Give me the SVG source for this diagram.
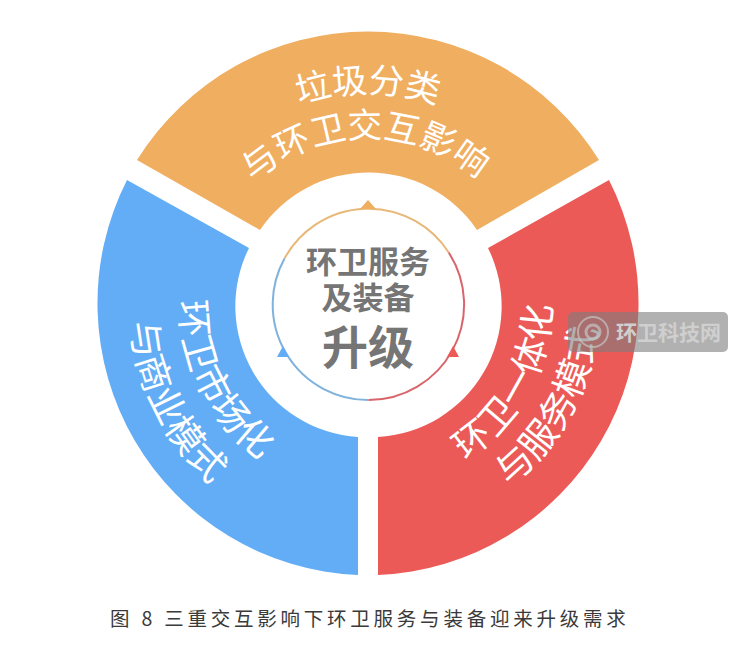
<svg xmlns="http://www.w3.org/2000/svg" width="738" height="664" viewBox="0 0 738 664">
<style>
.s{font-family:"Noto Sans CJK SC","Noto Sans",sans-serif;font-size:37px;font-weight:400;fill:#fff;text-anchor:middle}
.t{font-size:35px}
.c{font-family:"Noto Sans CJK SC","Noto Sans",sans-serif;font-weight:700;fill:#757575;text-anchor:middle}
.ring{fill:none;stroke-width:2}
</style>
<defs>
<path id="o1" d="M205.6,168.7A212,212 0 0 1 530.4,168.7"/>
<path id="o2" d="M240.1,197.6A167,167 0 0 1 495.9,197.6"/>
<path id="b1" d="M195.6,230A188,188 0 0 0 324.2,487.7"/>
<path id="b2" d="M149.8,210A238,238 0 0 0 312.5,536.3"/>
<path id="r1" d="M403,484.7A183,183 0 0 0 538.9,239.5"/>
<path id="r2" d="M411.9,530.9A230,230 0 0 0 582.8,222.7"/>
</defs>
<rect width="738" height="664" fill="#fff"/>
<g id="segment-orange">
<path d="M137,160A272,272 0 0 1 599,160L477,230A131,131 0 0 0 260,230Z" fill="#F0AE60"/>
<text class="s t"><textPath href="#o1" startOffset="50%">垃圾分类</textPath></text>
<text class="s t"><textPath href="#o2" startOffset="49%">与环卫交互影响</textPath></text>
</g>
<g id="segment-blue">
<path d="M127,180A272,272 0 0 0 358,575L358,437A131,131 0 0 1 249,248Z" fill="#62ADF5"/>
<text class="s"><textPath href="#b1" startOffset="50.5%">环卫市场化</textPath></text>
<text class="s"><textPath href="#b2" startOffset="50%">与商业模式</textPath></text>
</g>
<g id="segment-red">
<path d="M609,180A272,272 0 0 1 378,575L378,437A131,131 0 0 0 488,248Z" fill="#EC5A57"/>
<text class="s"><textPath href="#r1" startOffset="50%">环卫一体化</textPath></text>
<text class="s"><textPath href="#r2" startOffset="50%">与服务模式</textPath></text>
</g>
<g id="center">
<path class="ring" d="M284.5,258.5A95.5,95.5 0 0 1 448.7,252.5" stroke="#E8B878"/>
<path class="ring" d="M284.5,258.5A95.5,95.5 0 0 0 368.5,400" stroke="#7FB2DC"/>
<path class="ring" d="M448.7,252.5A95.5,95.5 0 0 1 368.5,400" stroke="#D9656B"/>
<path d="M368,200L376,209H360Z" fill="#F0AE60"/>
<path d="M283,346L289,357H277Z" fill="#62ADF5"/>
<path d="M453,346L459,357H447Z" fill="#EE5A58"/>
<text class="c" x="368" y="273" font-size="31">环卫服务</text>
<text class="c" x="368" y="309" font-size="31">及装备</text>
<text class="c" x="368" y="364" font-size="46">升级</text>
</g>
<g id="watermark">
<rect x="568" y="312" width="160" height="40" rx="5" fill="#7d7d7d" fill-opacity=".6"/>
<circle cx="593" cy="332" r="15" fill="none" stroke="#c4c4c4" stroke-opacity=".7" stroke-width="2"/>
<circle cx="593" cy="332" r="7" fill="none" stroke="#c4c4c4" stroke-opacity=".7" stroke-width="3"/>
<text x="616" y="340" font-family="'Noto Sans CJK SC',sans-serif" font-size="21" font-weight="700" fill="#cfcfcf">环卫科技网</text>
</g>
<text id="caption" x="110" y="626" font-family="'Noto Sans CJK SC',sans-serif" font-size="19.5" fill="#3a3a3a" letter-spacing="3.77" xml:space="preserve">图 8 三重交互影响下环卫服务与装备迎来升级需求</text>
</svg>
